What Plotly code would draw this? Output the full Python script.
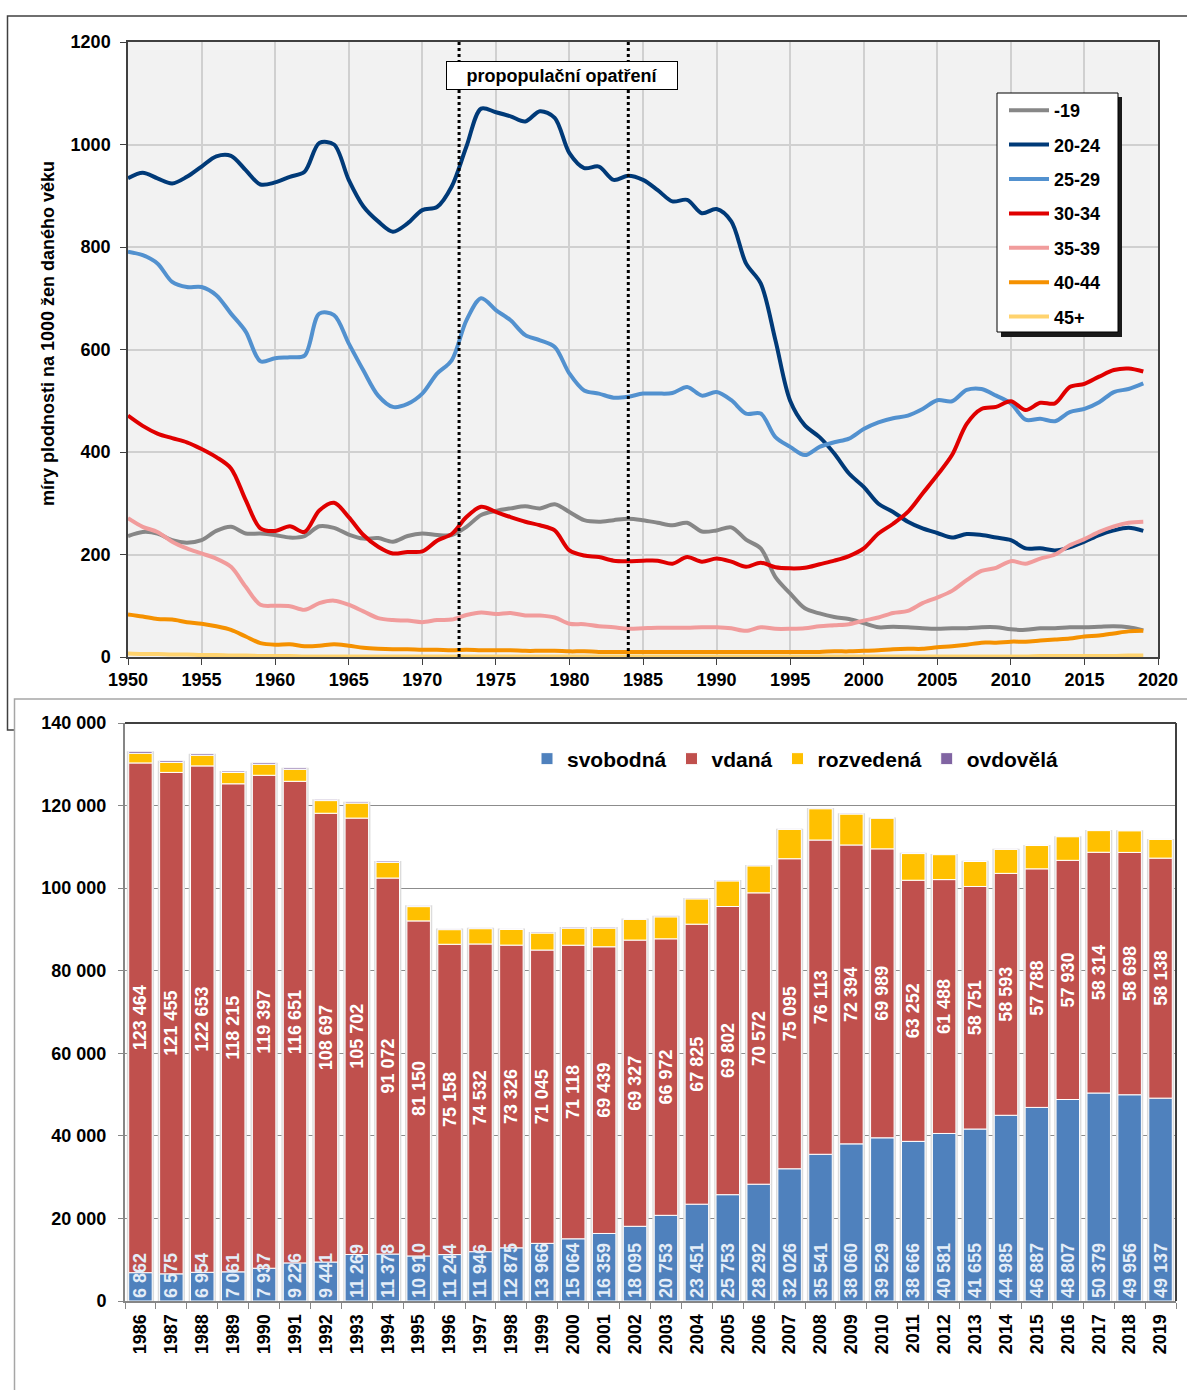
import plotly.graph_objects as go
import numpy as np

W, H = 1187, 1390
def px_x(p):
    return p / W
def px_y(p):
    return 1 - p / H

FONT = "Liberation Sans"

# ---------------- top chart data: fertility rates per 1000 women ----------------
years = list(range(1950, 2020))
age_groups = ["-19", "20-24", "25-29", "30-34", "35-39", "40-44", "45+"]

rate_u19 = [236, 244, 241, 228, 223, 228, 246, 254, 241, 241,
            238, 233, 236, 255, 252, 239, 231, 232, 225, 236,
            241, 238, 238, 254, 277, 285, 290, 294, 290, 298,
            283, 267, 264, 267, 270, 267, 262, 257, 262, 245,
            247, 253, 229, 212, 156, 124, 95, 85, 78, 74,
            66, 58, 59, 58, 56, 55, 56, 56, 58, 58,
            54, 53, 56, 56, 58, 58, 59, 60, 58, 52]
rate_20_24 = [934, 945, 934, 924, 937, 957, 977, 978, 950, 922,
              926, 937, 947, 1003, 1000, 931, 879, 850, 830, 846,
              872, 878, 918, 996, 1070, 1063, 1055, 1045, 1065, 1052,
              983, 954, 957, 931, 939, 931, 911, 889, 892, 866,
              874, 850, 768, 729, 618, 500, 452, 429, 397, 358,
              332, 299, 283, 264, 251, 242, 233, 240, 238, 233,
              228, 212, 212, 208, 214, 225, 238, 247, 252, 246]
rate_25_29 = [791, 784, 768, 732, 722, 722, 706, 670, 635, 577,
              583, 585, 588, 670, 667, 612, 559, 510, 488, 494,
              514, 553, 579, 657, 700, 677, 657, 628, 618, 605,
              553, 520, 514, 506, 508, 514, 514, 515, 527, 510,
              517, 501, 475, 475, 429, 410, 394, 410, 419, 426,
              445, 458, 466, 471, 484, 501, 499, 521, 523, 510,
              495, 463, 465, 460, 478, 484, 497, 517, 523, 534]
rate_30_34 = [471, 451, 436, 427, 419, 406, 390, 368, 306, 251,
              246, 255, 244, 286, 301, 273, 238, 215, 202, 205,
              206, 227, 240, 273, 293, 283, 273, 264, 257, 247,
              208, 198, 195, 188, 187, 188, 188, 182, 195, 186,
              192, 186, 176, 184, 175, 173, 174, 181, 188, 197,
              212, 241, 260, 283, 319, 355, 394, 455, 484, 488,
              499, 482, 496, 495, 527, 533, 547, 560, 563, 557]
rate_35_39 = [271, 254, 244, 225, 212, 202, 192, 176, 137, 102,
              100, 99, 92, 105, 110, 102, 89, 76, 72, 71,
              68, 72, 73, 82, 87, 84, 86, 81, 81, 77,
              65, 64, 60, 58, 55, 56, 57, 57, 57, 58,
              58, 56, 51, 58, 55, 55, 56, 60, 62, 64,
              71, 77, 86, 90, 105, 116, 129, 150, 168, 174,
              187, 182, 192, 200, 218, 230, 244, 255, 262, 264]
rate_40_44 = [83, 79, 74, 73, 68, 65, 60, 53, 40, 27,
              24, 25, 21, 22, 25, 22, 18, 16, 15, 15,
              14, 14, 13, 14, 13, 13, 13, 12, 12, 12,
              11, 11, 10, 10, 10, 10, 10, 10, 10, 10,
              10, 10, 10, 10, 10, 10, 10, 10, 11, 11,
              12, 13, 15, 16, 16, 19, 21, 24, 28, 28,
              30, 30, 32, 34, 36, 40, 42, 46, 50, 51]
rate_45p = [7, 6, 6, 5, 5, 4, 4, 3, 3, 2,
            2, 2, 1, 1, 1, 1, 1, 1, 1, 1,
            1, 1, 1, 1, 1, 1, 1, 1, 1, 1,
            1, 1, 1, 1, 1, 1, 1, 1, 1, 1,
            1, 1, 1, 1, 1, 1, 1, 1, 1, 1,
            1, 1, 1, 1, 1, 1, 1, 1, 1, 1,
            1, 1, 2, 2, 2, 2, 2, 2, 3, 3]
line_colors = ["#878787", "#003A78", "#5291CF", "#E00000", "#F19C9C", "#F59100", "#FFD36E"]
line_series = [rate_u19, rate_20_24, rate_25_29, rate_30_34, rate_35_39, rate_40_44, rate_45p]

measure_years = [1972.5, 1984]
measure_label = "propopulační opatření"
y_title = "míry plodnosti na 1000 žen daného věku"

# ---------------- bottom chart data: births by marital status ----------------
bar_years = [str(y) for y in range(1986, 2020)]
svobodna = [6862, 6575, 6954, 7061, 7937, 9226, 9441, 11269, 11378, 10910,
            11244, 11946, 12875, 13966, 15064, 16359, 18095, 20753, 23451, 25753,
            28292, 32026, 35541, 38060, 39529, 38666, 40581, 41655, 44985, 46887,
            48807, 50379, 49956, 49137]
vdana = [123464, 121455, 122653, 118215, 119397, 116651, 108697, 105702, 91072, 81150,
         75158, 74532, 73326, 71045, 71118, 69439, 69327, 66972, 67825, 69802,
         70572, 75095, 76113, 72394, 69989, 63252, 61488, 58751, 58593, 57788,
         57930, 58314, 58698, 58138]
rozvedena = [2340, 2420, 2580, 2740, 2660, 2900, 3070, 3630, 3790, 3470,
             3550, 3710, 3790, 4120, 4120, 4520, 5000, 5330, 6130, 6210,
             6540, 7100, 7590, 7500, 7420, 6460, 6050, 6050, 5810, 5650,
             5730, 5250, 5250, 4520]
ovdovela = [480, 400, 380, 350, 380, 360, 320, 300, 330, 300,
            250, 240, 250, 240, 260, 240, 220, 230, 210, 200,
            200, 190, 180, 200, 170, 180, 150, 150, 140, 140,
            130, 130, 120, 120]
status_names = ["svobodná", "vdaná", "rozvedená", "ovdovělá"]
status_colors = ["#4F81BD", "#C0504D", "#FFC000", "#8064A2"]
bar_ticks = [0, 20000, 40000, 60000, 80000, 100000, 120000, 140000]


def fmt(v):
    return f"{v:,}".replace(",", " ")


fig = go.Figure()

# top chart lines
for name, vals, col in zip(age_groups, line_series, line_colors):
    fig.add_trace(go.Scatter(
        x=years, y=vals, name=name, mode="lines",
        line=dict(color=col, width=4, shape="spline", smoothing=0.9),
        legendgroup=name, legend="legend", xaxis="x", yaxis="y",
    ))

# bottom chart stacked bars (overlay with explicit bases)
s = np.array(svobodna)
v = np.array(vdana)
r = np.array(rozvedena)
o = np.array(ovdovela)
totals = s + v + r + o
bases = [np.zeros_like(s), s, s + v, s + v + r]
segs = [s, v, r, o]

# soft shadow behind each bar
fig.add_trace(go.Bar(
    x=bar_years, y=totals, base=0, width=0.88, marker=dict(color="#DCDCDC", line=dict(width=0)),
    showlegend=False, hoverinfo="skip", xaxis="x2", yaxis="y2",
))
for k in range(4):
    kw = {}
    if k == 1:
        kw = dict(text=[fmt(x) for x in segs[k]], textposition="inside", insidetextanchor="middle",
                  textangle=-90, insidetextfont=dict(color="white", size=18, family=FONT, weight="bold"))
    fig.add_trace(go.Bar(
        x=bar_years, y=segs[k], base=bases[k], name=status_names[k], width=0.76,
        marker=dict(color=status_colors[k], line=dict(color="white", width=1)),
        legend="legend2", xaxis="x2", yaxis="y2", **kw,
    ))
# labels of the svobodná segment, drawn last so they may overflow onto the red segment
fig.add_trace(go.Bar(
    x=bar_years, y=s, base=0, width=0.76, marker=dict(color="rgba(0,0,0,0)", line=dict(width=0)),
    text=[fmt(x) for x in s], textposition="inside", insidetextanchor="start", textangle=-90,
    insidetextfont=dict(color="#E4EDF8", size=18, family=FONT, weight="bold"),
    showlegend=False, hoverinfo="skip", xaxis="x2", yaxis="y2",
))

axis_font = dict(family=FONT, size=18, color="black", weight="bold")

shapes = [
    # outer frames
    dict(type="rect", xref="paper", yref="paper", x0=px_x(7.5), x1=px_x(1200), y0=px_y(730), y1=px_y(16),
         line=dict(color="#404040", width=1.5), layer="below"),
    dict(type="rect", xref="paper", yref="paper", x0=px_x(14.5), x1=px_x(1200), y0=px_y(1420), y1=px_y(699),
         fillcolor="white", line=dict(color="#A6A6A6", width=1.5), layer="below"),
    # top plot background
    dict(type="rect", xref="x domain", yref="y domain", x0=0, x1=1, y0=0, y1=1,
         fillcolor="#F2F2F2", line=dict(width=0), layer="below"),
]
for my in measure_years:
    shapes.append(dict(type="line", xref="x", yref="y domain", x0=my, x1=my, y0=0, y1=1,
                       line=dict(color="black", width=3, dash="dot"), layer="above"))
# legend box with shadow
shapes.append(dict(type="rect", xref="paper", yref="paper", x0=px_x(1001), x1=px_x(1122),
                   y0=px_y(337), y1=px_y(97), fillcolor="#1A1A1A", line=dict(width=0), layer="above"))
shapes.append(dict(type="rect", xref="paper", yref="paper", x0=px_x(997), x1=px_x(1118),
                   y0=px_y(332), y1=px_y(93), fillcolor="white", line=dict(color="black", width=1),
                   layer="above"))
# bottom plot top/right border
shapes.append(dict(type="line", xref="paper", yref="paper", x0=px_x(125), x1=px_x(1176),
                   y0=px_y(723), y1=px_y(723), line=dict(color="#404040", width=2), layer="above"))
shapes.append(dict(type="line", xref="paper", yref="paper", x0=px_x(1176), x1=px_x(1176),
                   y0=px_y(723), y1=px_y(1301), line=dict(color="#404040", width=2), layer="above"))

annotations = [
    dict(text=measure_label, xref="paper", yref="paper", x=px_x(562), y=px_y(75.5),
         xanchor="center", yanchor="middle",
         showarrow=False, font=axis_font, bgcolor="white", bordercolor="black", borderwidth=1,
         borderpad=1, width=228, height=25, align="center"),
    dict(text=y_title, xref="paper", yref="paper", x=px_x(48), y=px_y(334), textangle=-90,
         xanchor="center", yanchor="middle", showarrow=False, font=axis_font),
]

fig.update_layout(
    width=W, height=H, autosize=False,
    margin=dict(l=0, r=0, t=0, b=0, pad=0),
    paper_bgcolor="white", plot_bgcolor="rgba(0,0,0,0)",
    font=dict(family=FONT, size=18, color="black", weight="bold"),
    barmode="overlay",
    uniformtext=dict(minsize=18, mode="show"),
    xaxis=dict(domain=[px_x(128), px_x(1158)], range=[1950, 2020], dtick=5, tick0=1950,
               tickformat="d", showgrid=True, gridcolor="#D0D0D0", gridwidth=1.5,
               showline=True, linecolor="#404040", linewidth=1.5, mirror=True,
               ticks="outside", ticklen=6, tickcolor="#404040", tickfont=axis_font,
               zeroline=False, anchor="y", automargin=False),
    yaxis=dict(domain=[px_y(657), px_y(42)], range=[0, 1200], dtick=200, tickformat="d",
               showgrid=True, gridcolor="#D0D0D0", gridwidth=1.5,
               showline=True, linecolor="#404040", linewidth=1.5, mirror=True,
               ticks="outside", ticklen=6, tickcolor="#404040", tickfont=axis_font,
               zeroline=False, anchor="x", ticklabelstandoff=6, automargin=False),
    xaxis2=dict(domain=[px_x(125), px_x(1176)], type="category", range=[-0.5, len(bar_years) - 0.5],
                tickangle=-90, tickson="boundaries", ticks="outside", ticklen=6, tickcolor="#868686",
                showline=True, linecolor="#868686", linewidth=2, showgrid=False,
                tickfont=dict(family=FONT, size=18, color="black", weight="bold"),
                anchor="y2", ticklabelstandoff=4, automargin=False),
    yaxis2=dict(domain=[px_y(1301), px_y(723)], range=[0, 140000], tickvals=bar_ticks,
                ticktext=[fmt(t) for t in bar_ticks], showgrid=True, gridcolor="#8C8C8C", gridwidth=1,
                showline=True, linecolor="#868686", linewidth=2, ticks="outside", ticklen=5,
                tickcolor="#868686", tickfont=dict(family=FONT, size=18, color="black", weight="bold"),
                zeroline=False, anchor="x2", ticklabelstandoff=8, automargin=False),
    legend=dict(x=px_x(1004), y=px_y(92), xanchor="left", yanchor="top", bgcolor="rgba(0,0,0,0)",
                borderwidth=0, traceorder="grouped", tracegroupgap=8,
                itemwidth=40, font=dict(family=FONT, size=18, color="black", weight="bold")),
    legend2=dict(orientation="h", x=px_x(527), y=px_y(759), xanchor="left", yanchor="middle",
                 bgcolor="rgba(0,0,0,0)", traceorder="normal",
                 font=dict(family=FONT, size=21, color="black", weight="bold")),
    shapes=shapes,
    annotations=annotations,
    showlegend=True,
)

fig.write_html(
    "out.html",
    config={"displayModeBar": False},
    post_script="document.body.style.margin='0';document.body.style.padding='0';"
                "document.documentElement.style.margin='0';",
)
